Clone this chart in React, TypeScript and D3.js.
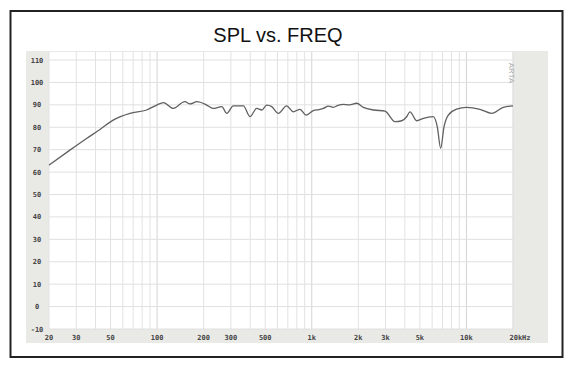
import React from "react";
import * as d3 from "d3";

const freqs = [20, 27.3, 35, 42.7, 52, 66.8, 85.6, 99.4, 110, 127, 151, 163, 181, 209, 230, 262, 282, 311, 361, 399, 440, 475, 511, 551, 608, 688, 760, 839, 917, 1023, 1110, 1187, 1280, 1378, 1480, 1599, 1750, 1950, 2155, 2512, 2975, 3453, 3815, 4108, 4316, 4769, 5260, 6107, 6479, 6814, 7160, 7634, 8651, 10000, 12240, 14565, 17306, 20000];
const spl = [63.1, 69.8, 75, 79, 83.2, 86.2, 87.7, 89.9, 91, 88.4, 91.4, 90.4, 91.4, 89.9, 88.4, 89.2, 86.2, 89.5, 89.5, 84.7, 88.4, 87.7, 89.9, 89.2, 86.2, 89.5, 86.9, 88, 85.4, 87.4, 87.9, 88.4, 89.4, 88.9, 89.8, 90.2, 90.0, 90.7, 88.9, 87.7, 87.2, 82.5, 82.9, 84.7, 86.9, 82.9, 84.0, 84.7, 80.2, 70.6, 80.2, 85.4, 88.1, 88.9, 88, 86.2, 88.9, 89.5];

const yTicks = [-10, 0, 10, 20, 30, 40, 50, 60, 70, 80, 90, 100, 110];
const xTickValues = [20, 30, 50, 100, 200, 300, 500, 1000, 2000, 3000, 5000, 10000, 20000];
const xTickLabels = ["20", "30", "50", "100", "200", "300", "500", "1k", "2k", "3k", "5k", "10k", "20kHz"];
const title = "SPL vs. FREQ";

export default function App() {
  const x = d3.scaleLog().domain([20, 20000]).range([49, 513]);
  const y = d3.scaleLinear().domain([-10, 110]).range([329, 60]);

  const vGrid: number[] = [];
  [10, 100, 1000, 10000].forEach((dec) => {
    for (let m = 1; m <= 9; m++) {
      const v = dec * m;
      if (v >= 20 && v <= 20000) vGrid.push(v);
    }
  });
  vGrid.push(20000);

  const line = d3
    .line<number>()
    .x((_, i) => x(freqs[i]))
    .y((d) => y(d))
    .curve(d3.curveMonotoneX);

  const labelFont = "'DejaVu Sans Mono', monospace";

  return (
    <svg
      width={583}
      height={379}
      style={{ position: "absolute", left: 0, top: 0, background: "#fff" }}
    >
      <rect x={10.5} y={11} width={552} height={346} fill="#fff" stroke="#222" strokeWidth={2} />
      <text
        x={278}
        y={42}
        textAnchor="middle"
        fontFamily="Arial, 'Liberation Sans', sans-serif"
        fontSize={20}
        fill="#111"
      >
        {title}
      </text>
      <rect x={26} y={51} width={522} height={292} fill="#e9e9e6" />
      <rect x={49} y={52} width={464} height={277} fill="#fff" />
      {vGrid.map((v, i) => (
        <line
          key={"v" + i}
          x1={x(v)}
          x2={x(v)}
          y1={52}
          y2={329}
          stroke={v === 100 || v === 1000 || v === 10000 ? "#d4d4d4" : "#e2e2e2"}
          strokeWidth={1}
        />
      ))}
      {yTicks.map((t) => (
        <line key={"h" + t} x1={49} x2={513} y1={y(t)} y2={y(t)} stroke="#e0e0e0" strokeWidth={1} />
      ))}
      {yTicks.map((t) => (
        <text
          key={"yl" + t}
          x={37}
          y={y(t) + 2.5}
          textAnchor="middle"
          fontFamily={labelFont}
          fontWeight="bold"
          fontSize={7}
          fill="#444"
        >
          {t}
        </text>
      ))}
      {xTickValues.map((v, i) => (
        <text
          key={"xl" + i}
          x={i === xTickValues.length - 1 ? x(v) + 7 : x(v)}
          y={340}
          textAnchor="middle"
          fontFamily={labelFont}
          fontWeight="bold"
          fontSize={7}
          fill="#444"
        >
          {xTickLabels[i]}
        </text>
      ))}
      <text
        x={509}
        y={73}
        transform="rotate(90 509 73)"
        textAnchor="middle"
        fontFamily="Arial, sans-serif"
        fontSize={8}
        fill="#aaa"
      >
        ARTA
      </text>
      <path d={line(spl) || ""} fill="none" stroke="#606060" strokeWidth={1.3} />
    </svg>
  );
}
